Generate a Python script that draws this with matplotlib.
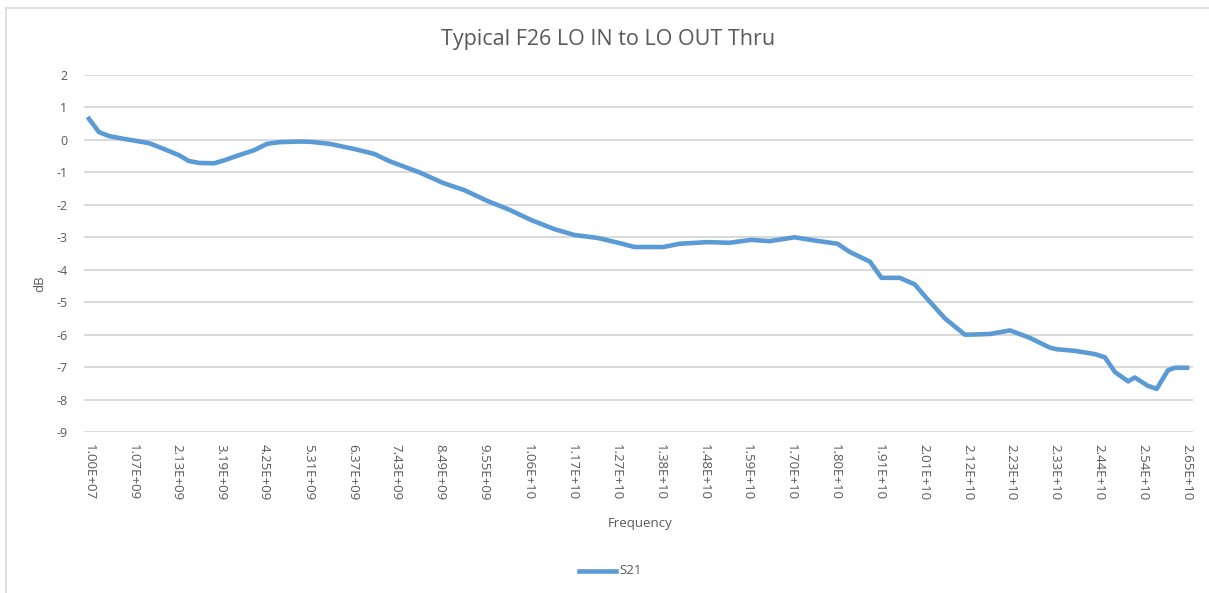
import matplotlib
matplotlib.use("Agg")
import matplotlib.pyplot as plt
from matplotlib.lines import Line2D

# S21 thru trace (frequency in GHz, level in dB)
FREQ_GHZ = [
    0.01, 0.25, 0.49, 0.86, 1.10, 1.46, 1.82, 2.18, 2.42, 2.67, 3.03, 3.27,
    3.63, 3.99, 4.31, 4.60, 5.08, 5.37, 5.81, 6.41, 6.89, 7.25, 7.50, 7.98,
    8.56, 9.07, 9.62, 10.15, 10.68, 11.24, 11.72, 12.28, 12.81, 13.17, 13.87,
    14.26, 14.93, 15.46, 15.99, 16.43, 17.03, 17.52, 18.07, 18.36, 18.85,
    19.13, 19.57, 19.93, 20.20, 20.66, 21.14, 21.26, 21.74, 22.23, 22.71,
    23.19, 23.36, 23.80, 24.28, 24.52, 24.76, 25.08, 25.24, 25.56, 25.77,
    26.04, 26.21, 26.50,
]
S21_DB = [
    0.65, 0.24, 0.12, 0.03, -0.02, -0.10, -0.28, -0.47, -0.65, -0.71, -0.72,
    -0.63, -0.47, -0.32, -0.12, -0.07, -0.05, -0.06, -0.12, -0.28, -0.43,
    -0.65, -0.77, -1.00, -1.33, -1.55, -1.88, -2.15, -2.47, -2.75, -2.93,
    -3.02, -3.18, -3.30, -3.30, -3.20, -3.15, -3.17, -3.08, -3.12, -3.00,
    -3.10, -3.20, -3.45, -3.75, -4.25, -4.25, -4.45, -4.85, -5.50, -6.00,
    -6.00, -5.98, -5.87, -6.10, -6.40, -6.45, -6.50, -6.60, -6.70, -7.15,
    -7.44, -7.32, -7.58, -7.67, -7.10, -7.02, -7.02,
]

TICK_GHZ = [0.01 + k * 1.0596 for k in range(26)]
TICK_LABELS = [
    "1.00E+07", "1.07E+09", "2.13E+09", "3.19E+09", "4.25E+09", "5.31E+09",
    "6.37E+09", "7.43E+09", "8.49E+09", "9.55E+09", "1.06E+10", "1.17E+10",
    "1.27E+10", "1.38E+10", "1.48E+10", "1.59E+10", "1.70E+10", "1.80E+10",
    "1.91E+10", "2.01E+10", "2.12E+10", "2.23E+10", "2.33E+10", "2.44E+10",
    "2.54E+10", "2.65E+10",
]
Y_TICKS = list(range(-9, 3))

W, H = 1209, 593
TXT = "#595959"
GRID = "#D9D9D9"
LINE = "#5B9BD5"

plt.rcParams["font.family"] = ["Open Sans", "DejaVu Sans"]

fig = plt.figure(figsize=(W / 100, H / 100), dpi=100)
ax = fig.add_axes([84 / W, 1 - 432 / H, (1193 - 84) / W, (432 - 75) / H])

ax.plot(FREQ_GHZ, S21_DB, color=LINE, lw=3.3, solid_joinstyle="round")

ax.set_ylim(-9, 2)
ax.set_xlim(-0.11, 26.645)
ax.set_yticks(Y_TICKS)
ax.set_yticklabels([str(v) for v in Y_TICKS])
ax.set_xticks(TICK_GHZ)
ax.set_xticklabels(TICK_LABELS, rotation=-90, va="top", ha="center")
ax.tick_params(axis="both", length=0, colors=TXT)
ax.tick_params(axis="x", pad=9, labelsize=9.5)
ax.tick_params(axis="y", pad=12, labelsize=9)
ax.grid(True, axis="y", color=GRID, lw=1.4)
ax.set_axisbelow(True)
for s in ax.spines.values():
    s.set_visible(False)

fig.text(608 / W, 1 - 40 / H, "Typical F26 LO IN to LO OUT Thru",
         ha="center", va="center", fontsize=15.5, color=TXT)
fig.text(640 / W, 1 - 523 / H, "Frequency", ha="center", va="center",
         fontsize=9.5, color=TXT)
fig.text(40 / W, 1 - 284 / H, "dB", ha="center", va="center",
         rotation=90, fontsize=9.5, color=TXT)

# legend: short line sample + label, bottom centre
fig.add_artist(Line2D([579 / W, 616 / W], [1 - 571 / H, 1 - 571 / H],
                      color=LINE, lw=3.3, transform=fig.transFigure))
fig.text(619 / W, 1 - 571 / H, "S21", ha="left", va="center",
         fontsize=9.5, color=TXT)

# chart border (cropped at right/bottom in the reference)
fig.add_artist(Line2D([6 / W, 6 / W], [0, 1 - 8 / H], color=GRID, lw=1.2,
                      transform=fig.transFigure))
fig.add_artist(Line2D([6 / W, 1], [1 - 8 / H, 1 - 8 / H], color=GRID, lw=1.2,
                      transform=fig.transFigure))

fig.savefig("out.png", dpi=100)
